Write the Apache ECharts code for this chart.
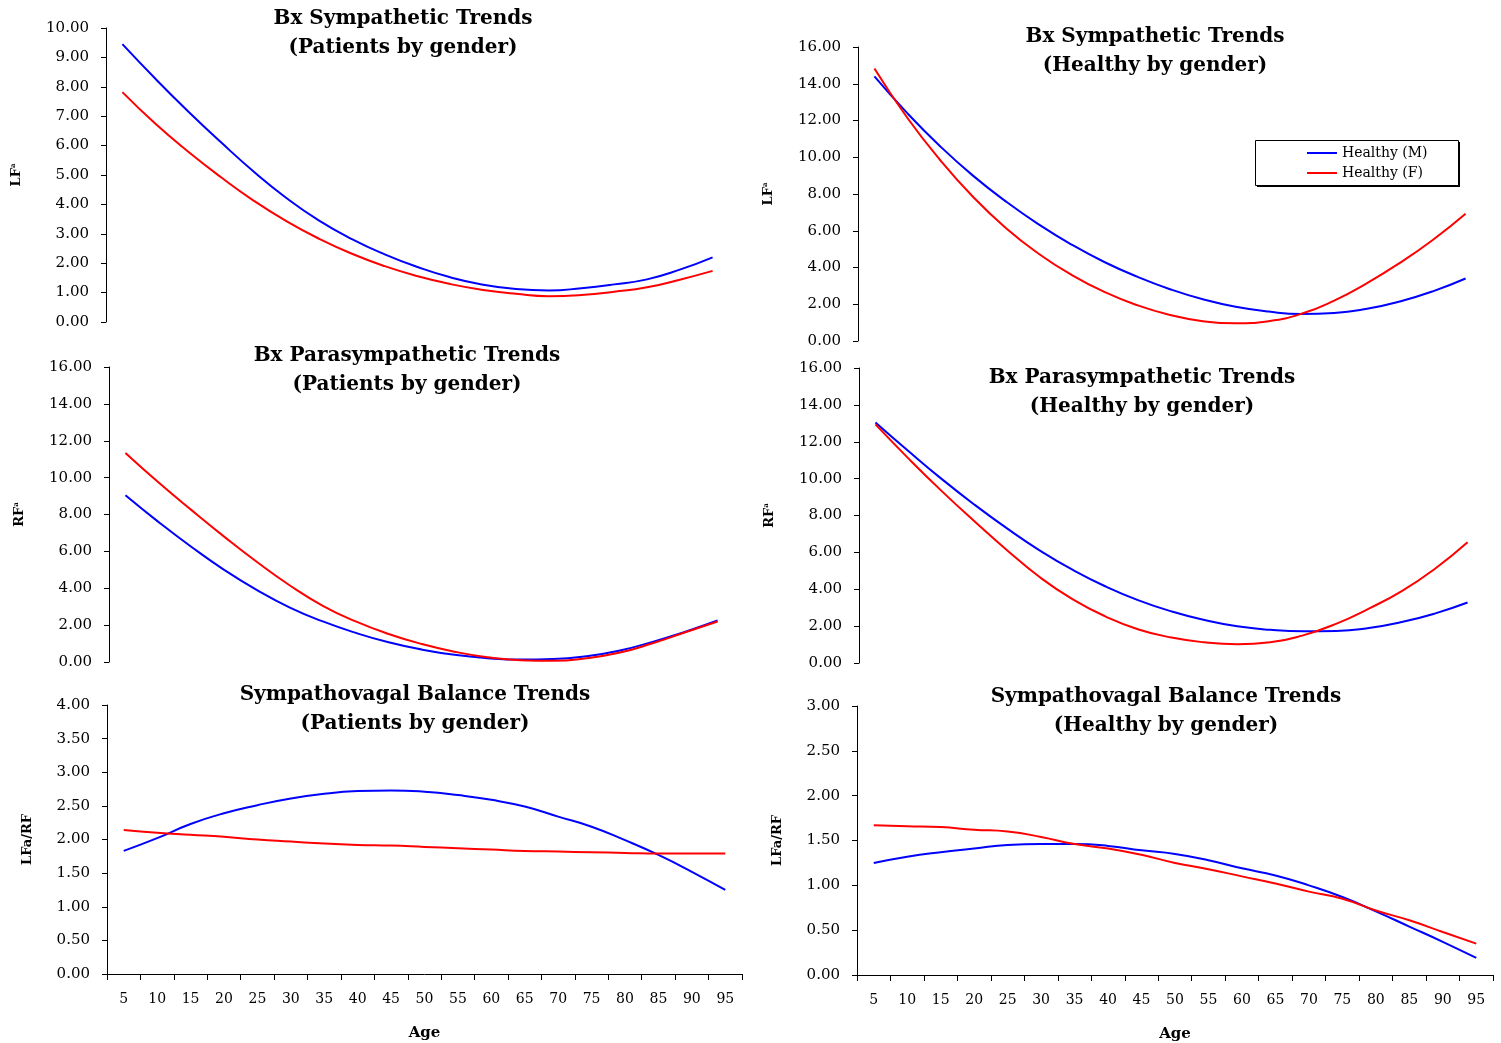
<!DOCTYPE html>
<html>
<head>
<meta charset="utf-8">
<script src="https://cdn.jsdelivr.net/npm/echarts@6/dist/echarts.min.js"></script>
<style>
html,body{margin:0;padding:0;background:#fff;}
#chart{width:1501px;height:1043px;}
</style>
</head>
<body>
<div id="chart"></div>
<script>
// ---- data ----
var ages = ['5','10','15','20','25','30','35','40','45','50','55','60','65','70','75','80','85','90','95'];

var lfPatientsM = [9.45,8.28,7.17,6.12,5.12,4.22,3.45,2.82,2.3,1.87,1.52,1.27,1.12,1.07,1.15,1.28,1.45,1.78,2.2];
var lfPatientsF = [7.82,6.75,5.8,4.93,4.13,3.43,2.83,2.32,1.9,1.56,1.29,1.09,0.96,0.88,0.92,1.03,1.18,1.44,1.74];

var lfHealthyM = [14.4,12.4,10.6,9.0,7.6,6.35,5.25,4.3,3.5,2.82,2.27,1.86,1.6,1.47,1.52,1.75,2.15,2.7,3.4];
var lfHealthyF = [14.83,12.15,9.85,7.85,6.15,4.75,3.6,2.67,1.95,1.42,1.08,0.96,1.08,1.48,2.2,3.15,4.25,5.5,6.93];

var rfPatientsM = [9.04,7.6,6.25,5.0,3.9,2.95,2.2,1.58,1.07,0.68,0.39,0.21,0.13,0.16,0.31,0.61,1.08,1.63,2.25];
var rfPatientsF = [11.34,9.75,8.25,6.8,5.42,4.15,3.05,2.2,1.52,0.98,0.56,0.26,0.1,0.07,0.2,0.5,1.0,1.6,2.2];

var rfHealthyM = [13.05,11.5,10.0,8.6,7.3,6.1,5.05,4.15,3.4,2.8,2.33,1.99,1.8,1.72,1.74,1.9,2.22,2.68,3.28];
var rfHealthyF = [12.94,11.1,9.35,7.7,6.12,4.65,3.45,2.52,1.82,1.38,1.12,1.02,1.12,1.5,2.12,2.95,3.9,5.1,6.55];

var svPatientsM = [1.83,2.02,2.23,2.39,2.51,2.61,2.68,2.72,2.73,2.71,2.66,2.59,2.49,2.34,2.19,1.99,1.77,1.52,1.25];
var svPatientsF = [2.14,2.1,2.07,2.04,2.0,1.97,1.94,1.92,1.91,1.89,1.87,1.85,1.83,1.82,1.81,1.8,1.79,1.79,1.79];

var svHealthyM = [1.25,1.32,1.37,1.41,1.45,1.46,1.46,1.44,1.39,1.35,1.28,1.19,1.11,1.0,0.87,0.71,0.54,0.37,0.19];
var svHealthyF = [1.67,1.66,1.65,1.62,1.6,1.54,1.46,1.41,1.34,1.25,1.18,1.1,1.02,0.93,0.85,0.72,0.61,0.48,0.35];

var titles = [
  'Bx Sympathetic Trends\n(Patients by gender)',
  'Bx Sympathetic Trends\n(Healthy by gender)',
  'Bx Parasympathetic Trends\n(Patients by gender)',
  'Bx Parasympathetic Trends\n(Healthy by gender)',
  'Sympathovagal Balance Trends\n(Patients by gender)',
  'Sympathovagal Balance Trends\n(Healthy by gender)'
];
var yNames = ['{m|LF}{s|a}','{m|LF}{s|a}','{m|RF}{s|a}','{m|RF}{s|a}','{m|LFa/RF}','{m|LFa/RF}'];
var yMax = [10,16,16,16,4,3];
var yInterval = [1,2,2,2,0.5,0.5];
var legendNames = ['Healthy (M)','Healthy (F)'];
var seriesNames = [
  ['Patients (M)','Patients (F)'],
  legendNames,
  ['Patients RF (M)','Patients RF (F)'],
  ['Healthy RF (M)','Healthy RF (F)'],
  ['Patients LFa/RF (M)','Patients LFa/RF (F)'],
  ['Healthy LFa/RF (M)','Healthy LFa/RF (F)']
];
var seriesData = [
  [lfPatientsM, lfPatientsF],
  [lfHealthyM, lfHealthyF],
  [rfPatientsM, rfPatientsF],
  [rfHealthyM, rfHealthyF],
  [svPatientsM, svPatientsF],
  [svHealthyM, svHealthyF]
];

// ---- layout ----
var grids = [
  {left:106, top:28,  width:623, height:294},
  {left:858, top:47,  width:624, height:294},
  {left:109, top:367, width:625, height:295},
  {left:859, top:368, width:625, height:295},
  {left:107, top:705, width:635, height:269},
  {left:857, top:706, width:636, height:269}
];
var titlePos = [
  {x:403, y:4},
  {x:1155, y:22},
  {x:407, y:341},
  {x:1142, y:363},
  {x:415, y:680},
  {x:1166, y:682}
];
var nameGaps = [83, 83, 83, 83, 73, 73];
var legendBox = {x:1255, y:140, w:203, h:45};

var serif = 'DejaVu Serif';
var option = {
  backgroundColor: '#ffffff',
  animation: false,
  title: titles.map(function(t, i){
    return {
      text: t,
      left: titlePos[i].x,
      top: titlePos[i].y,
      textAlign: 'center',
      padding: 0,
      textStyle: {fontFamily: serif, fontWeight: 'bold', fontSize: 20, lineHeight: 29, color: '#000'}
    };
  }),
  graphic: [
    {type: 'rect', z: 10, silent: true,
     shape: {x: legendBox.x + 2, y: legendBox.y + 2, width: legendBox.w, height: legendBox.h},
     style: {fill: '#000'}},
    {type: 'rect', z: 11, silent: true,
     shape: {x: legendBox.x + 0.5, y: legendBox.y + 0.5, width: legendBox.w, height: legendBox.h},
     style: {fill: '#fff', stroke: '#000', lineWidth: 1}}
  ],
  legend: {
    data: legendNames,
    orient: 'vertical',
    left: legendBox.x,
    top: legendBox.y,
    z: 20,
    padding: [6, 31, 7, 52],
    itemGap: 6,
    itemWidth: 30,
    itemHeight: 2,
    icon: 'rect',
    borderWidth: 0,
    backgroundColor: 'transparent',
    textStyle: {fontFamily: serif, fontSize: 14, color: '#000'}
  },
  grid: grids.map(function(g){ return {left:g.left, top:g.top, width:g.width, height:g.height, containLabel:false}; }),
  xAxis: grids.map(function(g, i){
    var bottom = i >= 4;
    return {
      type: 'category',
      gridIndex: i,
      data: ages,
      boundaryGap: true,
      show: bottom,
      name: bottom ? 'Age' : '',
      nameLocation: 'middle',
      nameGap: 52,
      nameTextStyle: {fontFamily: serif, fontWeight: 'bold', fontSize: 15, color: '#000'},
      axisLine: {show: true, lineStyle: {color: '#000', width: 1}},
      axisTick: {show: true, length: 6, interval: 0, lineStyle: {color: '#000'}},
      axisLabel: {interval: 0, margin: 18, fontFamily: serif, fontSize: 14, color: '#000'},
      splitLine: {show: false}
    };
  }),
  yAxis: grids.map(function(g, i){
    return {
      type: 'value',
      gridIndex: i,
      min: 0,
      max: yMax[i],
      interval: yInterval[i],
      name: yNames[i],
      nameLocation: 'middle',
      nameGap: nameGaps[i],
      nameRotate: 90,
      nameTextStyle: {
        rich: {
          m: {fontFamily: serif, fontWeight: 'bold', fontSize: 13, color: '#000'},
          s: {fontFamily: serif, fontWeight: 'bold', fontSize: 7, color: '#000', verticalAlign: 'top'}
        }
      },
      axisLine: {show: true, lineStyle: {color: '#000', width: 1}},
      axisTick: {show: true, length: 5, inside: false, lineStyle: {color: '#000'}},
      axisLabel: {margin: 17, fontFamily: serif, fontSize: 15, color: '#000', formatter: function(v){ return v.toFixed(2); }},
      splitLine: {show: false}
    };
  }),
  series: []
};

for (var i = 0; i < 6; i++) {
  for (var k = 0; k < 2; k++) {
    option.series.push({
      type: 'line',
      name: seriesNames[i][k],
      xAxisIndex: i,
      yAxisIndex: i,
      data: seriesData[i][k],
      smooth: true,
      showSymbol: false,
      symbol: 'none',
      lineStyle: {color: k === 0 ? '#0000FF' : '#FF0000', width: 2},
      itemStyle: {color: k === 0 ? '#0000FF' : '#FF0000'}
    });
  }
}

var chart = echarts.init(document.getElementById('chart'), null, {renderer: 'canvas'});
chart.setOption(option);
</script>
</body>
</html>
